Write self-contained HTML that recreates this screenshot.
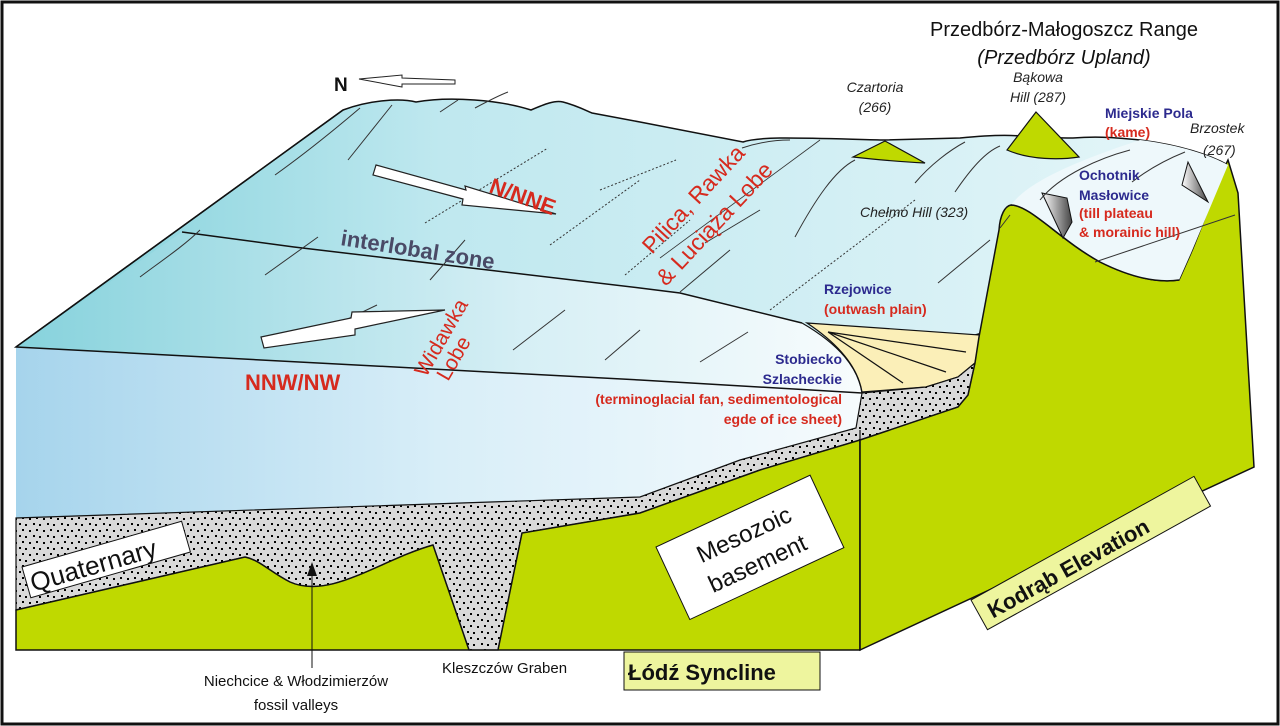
<!DOCTYPE html>
<html><head><meta charset="utf-8"><style>
html,body{margin:0;padding:0;background:#fff}
svg{display:block}
text{font-family:"Liberation Sans",Arial,sans-serif}
</style></head><body>
<svg width="1280" height="726" viewBox="0 0 1280 726" xmlns="http://www.w3.org/2000/svg">
<defs>
<linearGradient id="top" x1="0" y1="0" x2="1" y2="0">
<stop offset="0" stop-color="#7dcfd9"/><stop offset="0.35" stop-color="#bfe8ef"/><stop offset="1" stop-color="#e6f6f9"/></linearGradient>
<linearGradient id="front" x1="0" y1="0" x2="1" y2="0">
<stop offset="0" stop-color="#a6d4ec"/><stop offset="0.5" stop-color="#d8eef8"/><stop offset="1" stop-color="#f6fbfd"/></linearGradient>
<linearGradient id="wid" x1="0" y1="0" x2="1" y2="0">
<stop offset="0" stop-color="#86d2dc"/><stop offset="0.6" stop-color="#d6eff5"/><stop offset="1" stop-color="#f8fcfd"/></linearGradient>
<linearGradient id="cone" x1="0" y1="0" x2="1" y2="0">
<stop offset="0" stop-color="#fff"/><stop offset="1" stop-color="#444"/></linearGradient>
<pattern id="dots" width="14" height="12" patternUnits="userSpaceOnUse">
<rect width="14" height="12" fill="#d9d9d9"/>
<rect x="1" y="2" width="2" height="2" fill="#000"/><rect x="8" y="1" width="2" height="2" fill="#000"/>
<rect x="5" y="7" width="2" height="2" fill="#000"/><rect x="11" y="8" width="2" height="2" fill="#000"/>
</pattern>
</defs>
<rect width="1280" height="726" fill="#fff"/>

<!-- top surface -->
<path d="M16,347 L343,110 C370,100 400,98 416,102 C450,96 500,100 531,110 C545,104 555,100 563,102 C575,105 585,110 592,113 L640,122 L743,142 C760,136 800,138 883,140 L960,138 C990,135 1010,135 1020,136 C1050,138 1060,138 1073,138 C1100,136 1120,138 1140,140 C1180,145 1210,155 1228,165 L1200,270 L975,335 L862,430 L640,380 Z" fill="url(#top)" stroke="#111" stroke-width="1.5"/>
<!-- widawka lobe surface -->
<path d="M16,347 L182,232 L294,247 L640,288 L680,293 L802,323 C840,345 860,370 862,393 L640,380 Z" fill="url(#wid)"/>
<path d="M182,232 L294,247 L640,288 L680,293 L802,323" fill="none" stroke="#111" stroke-width="1.5"/>
<path d="M16,347 L343,110" fill="none" stroke="#111" stroke-width="1.5"/>

<!-- front face ice -->
<path d="M16,347 L640,380 L862,393 L862,430 L740,460 L640,497 L16,518 Z" fill="url(#front)"/>
<path d="M16,347 L640,380 L862,393" fill="none" stroke="#111" stroke-width="1.5"/>
<path d="M802,323 C840,345 858,368 862,393" fill="none" stroke="#111" stroke-width="1.2"/>

<!-- yellow fan -->
<path d="M807,323 L980,335 L975,363 L958,377 L926,387 L862,392 C858,368 840,345 807,323 Z" fill="#fbefb8" stroke="#111" stroke-width="1.2"/>
<path d="M828,332 L966,352 M828,332 L946,372 M828,332 L903,383" stroke="#111" stroke-width="1.2"/>

<!-- gray quaternary -->
<path d="M16,518 L640,497 L740,460 L856,428 L862,393 L926,387 L958,377 L975,363 L968,395 L958,407 L860,440 L760,470 L640,513 L522,533 L498,650 L469,650 L433,545 C380,560 330,600 290,582 C270,572 260,560 245,557 L16,610 Z" fill="url(#dots)" stroke="#111" stroke-width="1.2"/>

<!-- green Lodz front -->
<path d="M16,610 L245,557 C260,560 270,572 290,582 C330,600 380,560 433,545 L469,650 L498,650 L522,533 L640,513 L760,470 L860,440 L860,650 L16,650 Z" fill="#bfd900" stroke="#111" stroke-width="1.5"/>
<!-- green Kodrab block -->
<path d="M860,440 L958,407 L968,395 L975,363 L979,337 L999,230 C1000,215 1005,206 1011,205 C1030,205 1060,240 1100,262 C1140,282 1165,282 1179,280 L1191,253 C1205,220 1218,180 1228,160 L1238,193 L1254,467 L860,650 Z" fill="#bfd900" stroke="#111" stroke-width="1.5"/>
<path d="M860,430 L860,650" stroke="#111" stroke-width="1.2"/>
<path d="M1154,273 L1191,253 L1179,280 Z" fill="url(#dots)" stroke="#111" stroke-width="1"/>
<path d="M1011,205 C1030,205 1060,240 1100,262 C1140,282 1165,282 1179,280 L1191,253 L1228,165 C1210,155 1180,145 1140,140 C1080,160 1030,180 1011,205 Z" fill="#eef8fb"/>
<path d="M1011,205 C1030,205 1060,240 1100,262 C1140,282 1165,282 1179,280" fill="none" stroke="#111" stroke-width="1.5"/>

<!-- Czartoria lens -->
<path d="M853,157 L885,141 L925,163 C905,162 880,160 853,157 Z" fill="#bfd900" stroke="#111" stroke-width="1.2"/>
<!-- Bakowa -->
<path d="M1036,112 L1007,150 C1030,160 1060,160 1079,157 Z" fill="#bfd900" stroke="#111" stroke-width="1.2"/>
<!-- cones -->
<path d="M1042,193 L1067,198 L1072,222 L1063,238 Z" fill="url(#cone)" stroke="#111" stroke-width="1"/>
<path d="M1188,162 L1182,185 L1208,202 Z" fill="url(#cone)" stroke="#111" stroke-width="1"/>

<!-- hatch lines -->
<g stroke="#333" stroke-width="1" fill="none">
<path d="M275,175 C310,150 340,125 360,108"/><path d="M348,160 L392,105"/>
<path d="M440,112 L458,100"/><path d="M475,108 C490,100 500,95 508,92"/>
<path d="M140,277 C160,262 185,245 200,230"/><path d="M265,275 L318,237"/>
<path d="M325,330 L377,305"/><path d="M430,280 L465,240"/>
<path d="M513,350 L565,310"/><path d="M605,360 L640,330"/>
<path d="M705,243 L760,210"/><path d="M680,292 L730,250"/>
<path d="M795,237 C815,200 835,170 855,160"/><path d="M742,148 C760,142 775,140 790,140"/>
<path d="M915,183 C930,165 950,150 965,142"/><path d="M955,192 C970,170 985,152 1000,146"/>
<path d="M938,283 L990,240"/><path d="M1000,228 L1010,215"/>
<path d="M700,362 L748,332"/><path d="M1095,262 L1235,215"/>
<path d="M1040,200 C1060,175 1100,158 1130,150"/><path d="M1132,182 C1150,168 1170,158 1185,152"/>
<path d="M660,258 L820,140" stroke-width="0.8"/>
</g>
<g stroke="#333" stroke-width="1" stroke-dasharray="2,2" fill="none">
<path d="M425,223 L548,148"/><path d="M550,245 L640,180"/><path d="M625,275 L690,220"/>
<path d="M770,310 L915,200"/><path d="M600,190 L676,160"/>
</g>

<!-- arrows -->
<path d="M376,165 L466,190 L465,186 L556,214 L462,205 L463,199 L373,175 Z" fill="#fff" stroke="#222" stroke-width="1.2"/>
<path d="M261,337 L351,318 L352,312 L445,310 L355,329 L355,335 L264,348 Z" fill="#fff" stroke="#222" stroke-width="1.2"/>
<path d="M359,79 L402,75 L402,78 L455,80 L455,84 L402,84 L402,87 Z" fill="#fff" stroke="#222" stroke-width="1"/>
<text x="334" y="91" font-size="19" font-weight="bold" fill="#111">N</text>

<!-- frame -->
<rect x="2" y="2" width="1276" height="722" fill="none" stroke="#111" stroke-width="3"/>

<!-- labels -->
<text x="1064" y="36" font-size="20" text-anchor="middle" fill="#111">Przedbórz-Małogoszcz Range</text>
<text x="1064" y="64" font-size="20" font-style="italic" text-anchor="middle" fill="#111">(Przedbórz Upland)</text>
<text x="1038" y="82" font-size="14" font-style="italic" text-anchor="middle" fill="#222">Bąkowa</text>
<text x="1038" y="102" font-size="14" font-style="italic" text-anchor="middle" fill="#222">Hill (287)</text>
<text x="875" y="92" font-size="14" font-style="italic" text-anchor="middle" fill="#222">Czartoria</text>
<text x="875" y="112" font-size="14" font-style="italic" text-anchor="middle" fill="#222">(266)</text>
<text x="1105" y="118" font-size="14" font-weight="bold" fill="#2c2a8e">Miejskie Pola</text>
<text x="1105" y="137" font-size="14" font-weight="bold" fill="#d62a1e">(kame)</text>
<text x="1190" y="133" font-size="14" font-style="italic" fill="#222">Brzostek</text>
<text x="1203" y="155" font-size="14" font-style="italic" fill="#222">(267)</text>
<text x="1079" y="180" font-size="14" font-weight="bold" fill="#2c2a8e">Ochotnik</text>
<text x="1079" y="200" font-size="14" font-weight="bold" fill="#2c2a8e">Masłowice</text>
<text x="1079" y="218" font-size="14" font-weight="bold" fill="#d62a1e">(till plateau</text>
<text x="1079" y="237" font-size="14" font-weight="bold" fill="#d62a1e">&amp; morainic hill)</text>
<text x="860" y="217" font-size="14" font-style="italic" fill="#222">Chełmo Hill (323)</text>
<text x="824" y="294" font-size="14" font-weight="bold" fill="#2c2a8e">Rzejowice</text>
<text x="824" y="314" font-size="14" font-weight="bold" fill="#d62a1e">(outwash plain)</text>
<text x="842" y="364" font-size="14" font-weight="bold" fill="#2c2a8e" text-anchor="end">Stobiecko</text>
<text x="842" y="384" font-size="14" font-weight="bold" fill="#2c2a8e" text-anchor="end">Szlacheckie</text>
<text x="842" y="404" font-size="14" font-weight="bold" fill="#d62a1e" text-anchor="end">(terminoglacial fan, sedimentological</text>
<text x="842" y="424" font-size="14" font-weight="bold" fill="#d62a1e" text-anchor="end">egde of ice sheet)</text>
<text x="245" y="390" font-size="22" font-weight="bold" fill="#d62a1e">NNW/NW</text>
<text transform="translate(488,192) rotate(20)" font-size="22" font-weight="bold" fill="#d62a1e">N/NNE</text>
<text transform="translate(340,245) rotate(9)" font-size="22" font-weight="bold" fill="#4a4a66">interlobal zone</text>
<text transform="translate(426,378) rotate(-60)" font-size="21" fill="#d62a1e">Widawka</text>
<text transform="translate(448,382) rotate(-60)" font-size="21" fill="#d62a1e">Lobe</text>
<text transform="translate(652,255) rotate(-47)" font-size="23" fill="#d62a1e">Pilica, Rawka</text>
<text transform="translate(666,287) rotate(-47)" font-size="23" fill="#d62a1e">&amp; Luciąża Lobe</text>

<g transform="translate(22,567) rotate(-16)">
<rect x="0" y="0" width="166" height="32" fill="#fff" stroke="#111" stroke-width="1"/>
<text x="4" y="27" font-size="26" fill="#111">Quaternary</text></g>
<g transform="translate(656,547) rotate(-25)">
<rect x="0" y="0" width="170" height="80" fill="#fff" stroke="#111" stroke-width="1"/>
<text x="85" y="34" font-size="24" text-anchor="middle" fill="#111">Mesozoic</text>
<text x="85" y="66" font-size="24" text-anchor="middle" fill="#111">basement</text></g>
<g transform="translate(971,600) rotate(-29)">
<rect x="0" y="0" width="255" height="34" fill="#eef59e" stroke="#111" stroke-width="1"/>
<text x="10" y="27" font-size="22" font-weight="bold" fill="#111">Kodrąb Elevation</text></g>
<rect x="624" y="652" width="196" height="38" fill="#eef59e" stroke="#111" stroke-width="1"/>
<text x="628" y="680" font-size="22" font-weight="bold" fill="#111">Łódź Syncline</text>

<text x="442" y="673" font-size="15" fill="#111">Kleszczów Graben</text>
<text x="296" y="686" font-size="15" text-anchor="middle" fill="#111">Niechcice &amp; Włodzimierzów</text>
<text x="296" y="710" font-size="15" text-anchor="middle" fill="#111">fossil valleys</text>
<path d="M312,668 L312,572" stroke="#111" stroke-width="1"/>
<path d="M307,576 L312,562 L317,576 Z" fill="#111"/>
</svg>
</body></html>
